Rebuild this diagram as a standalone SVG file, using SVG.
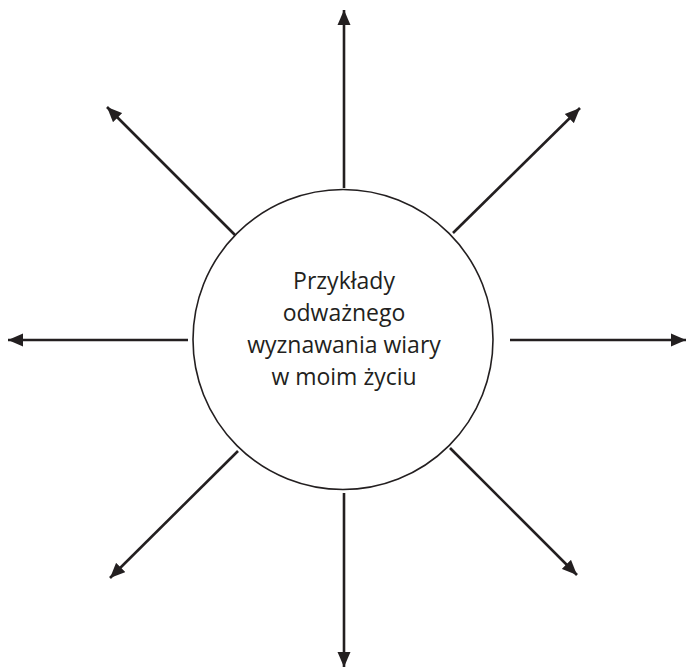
<svg xmlns="http://www.w3.org/2000/svg" width="687" height="671" viewBox="0 0 687 671">
<style>
.c{stroke:#231f20;stroke-width:2.6;fill:none;marker-end:url(#ah)}
.t{font-family:"Open Sans","Noto Sans",sans-serif;font-size:23px;fill:#231f20;text-anchor:middle}
</style>
<defs>
<marker id="ah" markerUnits="userSpaceOnUse" markerWidth="16" markerHeight="14" refX="15" refY="6.5" orient="auto" viewBox="0 0 16 13">
<path d="M0,0 L15,6.5 L0,13 Z" fill="#231f20"/>
</marker>
</defs>
<rect width="687" height="671" fill="#fff"/>
<g id="connectors">
<line class="c" x1="344" y1="188" x2="344" y2="10"/>
<line class="c" x1="344" y1="493" x2="344" y2="667"/>
<line class="c" x1="188" y1="340" x2="8" y2="340"/>
<line class="c" x1="510" y1="340" x2="686" y2="340"/>
<line class="c" x1="235" y1="235" x2="107" y2="107"/>
<line class="c" x1="453" y1="233" x2="580" y2="108"/>
<line class="c" x1="238" y1="451" x2="110" y2="578"/>
<line class="c" x1="450" y1="448" x2="577" y2="575"/>
</g>
<g id="center">
<circle cx="343" cy="339.5" r="150" fill="#fff" stroke="#231f20" stroke-width="1.6"/>
<text class="t" x="344" y="289">Przykłady</text>
<text class="t" x="344" y="321">odważnego</text>
<text class="t" x="344" y="353">wyznawania wiary</text>
<text class="t" x="344" y="385">w moim życiu</text>
</g>
</svg>
